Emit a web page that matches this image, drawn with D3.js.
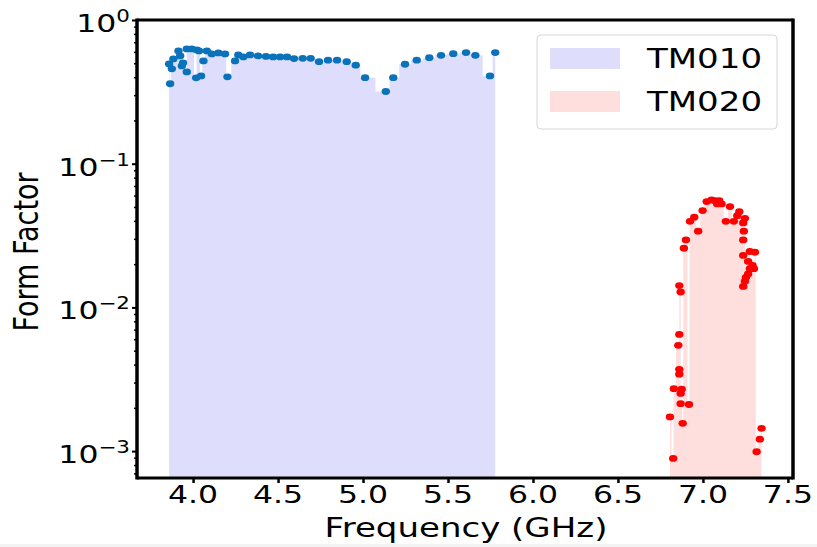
<!DOCTYPE html>
<html>
<head>
<meta charset="utf-8">
<script src="https://cdn.jsdelivr.net/npm/d3@7"></script>
<style>
  body { margin: 0; background: white; }
  text { font-family: "DejaVu Sans", sans-serif; fill: black; }
</style>
</head>
<body>
<div id="chart"></div>
<script>
// data
let tm010Freq = [3.859, 3.865, 3.875, 3.884, 3.914, 3.924, 3.934, 3.941, 3.963, 3.963,
  3.992, 4.018, 4.022, 4.035, 4.047, 4.061, 4.081, 4.110, 4.149, 4.188,
  4.202, 4.247, 4.266, 4.296, 4.335, 4.382, 4.429, 4.471, 4.512, 4.553,
  4.594, 4.645, 4.692, 4.741, 4.794, 4.847, 4.904, 4.957, 5.012, 5.134,
  5.178, 5.247, 5.316, 5.390, 5.459, 5.531, 5.606, 5.661, 5.747, 5.778];
let tm010Form = [0.494, 0.360, 0.457, 0.536, 0.609, 0.562, 0.479, 0.502, 0.435, 0.629,
  0.629, 0.396, 0.619, 0.609, 0.408, 0.519, 0.609, 0.581, 0.590, 0.581,
  0.402, 0.519, 0.571, 0.553, 0.571, 0.562, 0.558, 0.553, 0.553, 0.553,
  0.539, 0.541, 0.541, 0.513, 0.525, 0.525, 0.513, 0.485, 0.397, 0.318,
  0.397, 0.492, 0.525, 0.547, 0.568, 0.583, 0.593, 0.568, 0.408, 0.593];

let tm020Freq = [6.806, 6.825, 6.829, 6.855, 6.861, 6.861, 6.861, 6.861, 6.869, 6.869,
  6.869, 6.875, 6.881, 6.888, 6.900, 6.918, 6.924, 6.949, 6.972, 6.998,
  7.022, 7.051, 7.071, 7.084, 7.096, 7.110, 7.135, 7.159, 7.182, 7.202,
  7.214, 7.237, 7.237, 7.237, 7.237, 7.241, 7.247, 7.247, 7.253, 7.266,
  7.266, 7.276, 7.276, 7.292, 7.300, 7.306, 7.316, 7.335, 7.345];
let tm020Form = [0.00173, 0.00089, 0.00272, 0.00545, 0.00649, 0.00371, 0.00343, 0.0142, 0.0128, 0.00252,
  0.00214, 0.00270, 0.00156, 0.0258, 0.0295, 0.00211, 0.0397, 0.0424, 0.0339, 0.0472,
  0.0545, 0.0560, 0.0553, 0.0525, 0.0553, 0.0525, 0.0397, 0.0503, 0.0397, 0.0435,
  0.0464, 0.0387, 0.0295, 0.0230, 0.0140, 0.0339, 0.0417, 0.0152, 0.0162, 0.0209,
  0.0171, 0.0245, 0.0186, 0.0196, 0.0186, 0.0242, 0.00099, 0.00121, 0.00144];

let xTicks = [4.0, 4.5, 5.0, 5.5, 6.0, 6.5, 7.0, 7.5];
let yTicks = [1e-3, 1e-2, 1e-1, 1];
let yTickExp = ["\u22123", "\u22122", "\u22121", "0"];
let seriesNames = ["TM010", "TM020"];

let w = 817, h = 547;
let plotL = 137, plotR = 793, plotT = 20, plotB = 478;
let sx = 1.26; // the picture is stretched sideways

let svg = d3.select("#chart")
  .append("svg")
    .attr("width", w)
    .attr("height", h)
    .style("display", "block");

svg.append("rect").attr("x", 0).attr("y", 544).attr("width", w).attr("height", 3).attr("fill", "#f3f3f3");

let x = d3.scaleLinear().domain([3.67, 7.53]).range([plotL, plotR]);
let y = d3.scaleLog().domain([6.5e-4, 1]).range([plotB, plotT]);

function pts(fs, vs) {
  return fs.map((f, i) => ({f: f, v: vs[i]}));
}
let blue = pts(tm010Freq, tm010Form);
let red = pts(tm020Freq, tm020Form);

let area = d3.area()
  .x(d => x(d.f))
  .y0(plotB)
  .y1(d => y(d.v))
  .curve(d3.curveStep);

svg.append("path")
  .datum(blue.slice().sort((a, b) => a.f - b.f))
  .attr("d", area)
  .attr("fill", "#dedefc");
svg.append("path")
  .datum(red.slice().sort((a, b) => a.f - b.f))
  .attr("d", area)
  .attr("fill", "#ffdede");

// dots
svg.selectAll(".blueDot")
  .data(blue)
  .enter()
  .append("ellipse")
    .attr("cx", d => x(d.f))
    .attr("cy", d => y(d.v))
    .attr("rx", 4.2)
    .attr("ry", 3.4)
    .attr("fill", "#0a72ba");
svg.selectAll(".redDot")
  .data(red)
  .enter()
  .append("ellipse")
    .attr("cx", d => x(d.f))
    .attr("cy", d => y(d.v))
    .attr("rx", 4.2)
    .attr("ry", 3.4)
    .attr("fill", "#ff0000");

// ticks
let xAxis = svg.append("g")
  .attr("transform", "translate(0," + plotB + ")")
  .call(d3.axisBottom(x).tickValues(xTicks).tickSize(5).tickFormat(""));
xAxis.select(".domain").remove();
xAxis.selectAll("line").attr("stroke-width", 2.5);

let minor = y.ticks().filter(t => yTicks.indexOf(t) < 0);
let yAxis = svg.append("g")
  .attr("transform", "translate(" + plotL + ",0)")
  .call(d3.axisLeft(y).tickValues(yTicks).tickSize(5).tickFormat(""));
yAxis.select(".domain").remove();
yAxis.selectAll("line").attr("stroke-width", 2);
let yMinor = svg.append("g")
  .attr("transform", "translate(" + plotL + ",0)")
  .call(d3.axisLeft(y).tickValues(minor).tickSize(3).tickFormat(""));
yMinor.select(".domain").remove();
yMinor.selectAll("line").attr("stroke-width", 1.5);

// tick labels
xTicks.forEach(t => {
  svg.append("text")
    .text(t.toFixed(1))
    .attr("transform", "translate(" + x(t) + "," + (plotB + 25) + ") scale(" + sx + ",1)")
    .attr("text-anchor", "middle")
    .attr("font-size", 25);
});
yTicks.forEach((t, i) => {
  let lab = svg.append("text")
    .attr("transform", "translate(130," + (y(t) + 12) + ") scale(" + sx + ",1)")
    .attr("text-anchor", "end")
    .attr("font-size", 25);
  lab.append("tspan").text("10");
  lab.append("tspan").text(yTickExp[i]).attr("font-size", 17).attr("dy", -10);
});

// frame
svg.append("line").attr("x1", plotL).attr("x2", plotL).attr("y1", plotT - 1.5).attr("y2", plotB + 1.5).attr("stroke", "black").attr("stroke-width", 3.5);
svg.append("line").attr("x1", plotR).attr("x2", plotR).attr("y1", plotT - 1.5).attr("y2", plotB + 1.5).attr("stroke", "black").attr("stroke-width", 3.5);
svg.append("line").attr("x1", plotL).attr("x2", plotR).attr("y1", plotT).attr("y2", plotT).attr("stroke", "black").attr("stroke-width", 3);
svg.append("line").attr("x1", plotL).attr("x2", plotR).attr("y1", plotB).attr("y2", plotB).attr("stroke", "black").attr("stroke-width", 3);

// axis labels
svg.append("text")
  .text("Frequency (GHz)")
  .attr("transform", "translate(466,537) scale(" + sx + ",1)")
  .attr("text-anchor", "middle")
  .attr("font-size", 27);
svg.append("text")
  .text("Form Factor")
  .attr("transform", "translate(38,252) scale(" + sx + ",1) rotate(-90)")
  .attr("text-anchor", "middle")
  .attr("font-size", 27);

// legend
let legend = svg.append("g");
legend.append("rect")
  .attr("x", 537).attr("y", 35).attr("width", 240).attr("height", 94)
  .attr("rx", 4)
  .attr("fill", "white").attr("fill-opacity", 0.8)
  .attr("stroke", "#d6d6d6").attr("stroke-width", 1);
let legendColors = ["#dedefc", "#ffdede"];
seriesNames.forEach((name, i) => {
  legend.append("rect")
    .attr("x", 550).attr("y", 48 + i * 43)
    .attr("width", 70).attr("height", 21)
    .attr("fill", legendColors[i]);
  legend.append("text")
    .text(name)
    .attr("transform", "translate(647," + (68 + i * 43) + ") scale(" + sx + ",1)")
    .attr("font-size", 27);
});
</script>
</body>
</html>
